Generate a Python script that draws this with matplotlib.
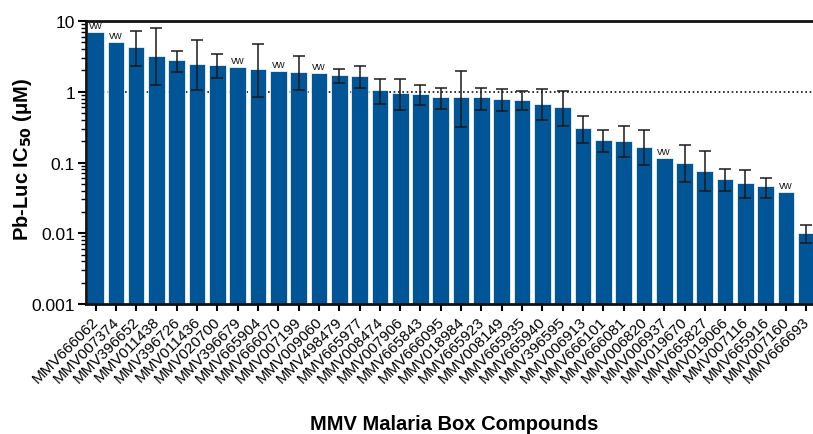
import matplotlib
matplotlib.use("Agg")
import matplotlib.pyplot as plt
import matplotlib.transforms as mtransforms
import numpy as np
from matplotlib.ticker import LogLocator, FixedLocator, NullFormatter

plt.rcParams['font.family'] = ['Liberation Sans', 'DejaVu Sans']

compounds = ["MMV666062", "MMV007374", "MMV396652", "MMV011438", "MMV396726", "MMV011436",
             "MMV020700", "MMV396679", "MMV665904", "MMV666070", "MMV007199", "MMV009060",
             "MMV498479", "MMV665977", "MMV008474", "MMV007906", "MMV665843", "MMV666095",
             "MMV018984", "MMV665923", "MMV008149", "MMV665935", "MMV665940", "MMV396595",
             "MMV006913", "MMV666101", "MMV666081", "MMV006820", "MMV006937", "MMV019670",
             "MMV665827", "MMV019066", "MMV007116", "MMV665916", "MMV007160", "MMV666693"]

ic50 = [6.9, 5.0, 4.25, 3.24, 2.8, 2.5, 2.4, 2.26, 2.08, 1.94, 1.92, 1.85,
        1.75, 1.69, 1.06, 0.95, 0.93, 0.84, 0.83, 0.83, 0.80, 0.77, 0.665, 0.60,
        0.305, 0.21, 0.20, 0.168, 0.117, 0.098, 0.077, 0.058, 0.051, 0.046, 0.038, 0.0101]

err_high = [np.nan, np.nan, 7.3, 8.0, 3.8, 5.4, 3.4, np.nan, 4.8, np.nan, 3.2, np.nan,
            2.12, 2.31, 1.53, 1.53, 1.25, 1.14, 1.99, 1.14, 1.10, 1.02, 1.08, 1.02,
            0.455, 0.29, 0.325, 0.285, np.nan, 0.174, 0.145, 0.080, 0.079, 0.061, np.nan, 0.0132]

err_low = [np.nan, np.nan, 2.3, 1.25, 1.92, 1.07, 1.55, np.nan, 0.84, np.nan, 1.06, np.nan,
           1.33, 1.14, 0.67, 0.55, 0.65, 0.57, 0.32, 0.55, 0.54, 0.55, 0.395, 0.325,
           0.19, 0.14, 0.119, 0.092, np.nan, 0.053, 0.039, 0.039, 0.031, 0.032, np.nan, 0.0074]

vw_flags = [True, True, False, False, False, False, False, True, False, True, False, True,
            False, False, False, False, False, False, False, False, False, False, False, False,
            False, False, False, False, True, False, False, False, False, False, True, False]

W, H = 813, 435
fig = plt.figure(figsize=(W / 100, H / 100), dpi=100)
left_px, right_px, top_px, bot_px = 86, 822.6, 22, 305
ax = fig.add_axes([left_px / W, (H - bot_px) / H, (right_px - left_px) / W, (bot_px - top_px) / H])

x = np.arange(len(compounds))
vals = np.array(ic50)
hi = np.array(err_high)
lo = np.array(err_low)
bar_color = '#005596'
ax.bar(x, vals, width=0.82, color=bar_color, edgecolor='white', linewidth=0.5, zorder=2)

mask = ~np.isnan(hi)
yerr = np.vstack([vals[mask] - lo[mask], hi[mask] - vals[mask]])
ax.errorbar(x[mask], vals[mask], yerr=yerr, fmt='none', ecolor='#1a1a1a',
            elinewidth=1.1, capsize=4, capthick=1.1, zorder=3)

for xi, v, f in zip(x, vals, vw_flags):
    if f:
        ax.annotate("vw", (xi, v), xytext=(0, 1.5), textcoords='offset points',
                    ha='center', va='bottom', fontsize=8, color='#222222', zorder=4)

ax.axhline(1, color='#111111', linestyle=(0, (1, 1.6)), linewidth=1.2, zorder=1)

ax.set_yscale('log')
ax.set_ylim(0.001, 10)
ax.set_xlim(-0.47, len(compounds) - 0.2)
ax.yaxis.set_major_locator(FixedLocator([0.001, 0.01, 0.1, 1, 10]))
ax.set_yticklabels(["0.001", "0.01", "0.1", "1", "10"], fontsize=12.5)
ax.yaxis.set_minor_locator(LogLocator(base=10, subs=np.arange(2, 10), numticks=20))
ax.yaxis.set_minor_formatter(NullFormatter())
ax.tick_params(axis='y', which='major', length=6, width=1.5, direction='out', pad=2)
ax.tick_params(axis='y', which='minor', length=3.5, width=1.0, direction='out')

ax.set_xticks(x)
ax.set_xticklabels(compounds, rotation=45, ha='right', rotation_mode='anchor', fontsize=11)
ax.tick_params(axis='x', length=5, width=1.5, direction='out', pad=2)
shift = mtransforms.ScaledTranslation(-4 / 100, 0, fig.dpi_scale_trans)
for lbl in ax.get_xticklabels():
    lbl.set_transform(lbl.get_transform() + shift)

for s in ['left', 'bottom', 'top']:
    ax.spines[s].set_linewidth(2)
    ax.spines[s].set_color('#111111')
ax.spines['right'].set_visible(False)

fig.text(23 / W, (H - 159) / H, "Pb-Luc IC$_{\\mathbf{50}}$ (\u03bcM)", rotation=90,
         ha='center', va='center', fontsize=14.5, fontweight='bold')
fig.text(454 / W, 4.5 / H, "MMV Malaria Box Compounds", ha='center', va='baseline',
         fontsize=14.5, fontweight='bold')

fig.savefig("out.png", dpi=100)
